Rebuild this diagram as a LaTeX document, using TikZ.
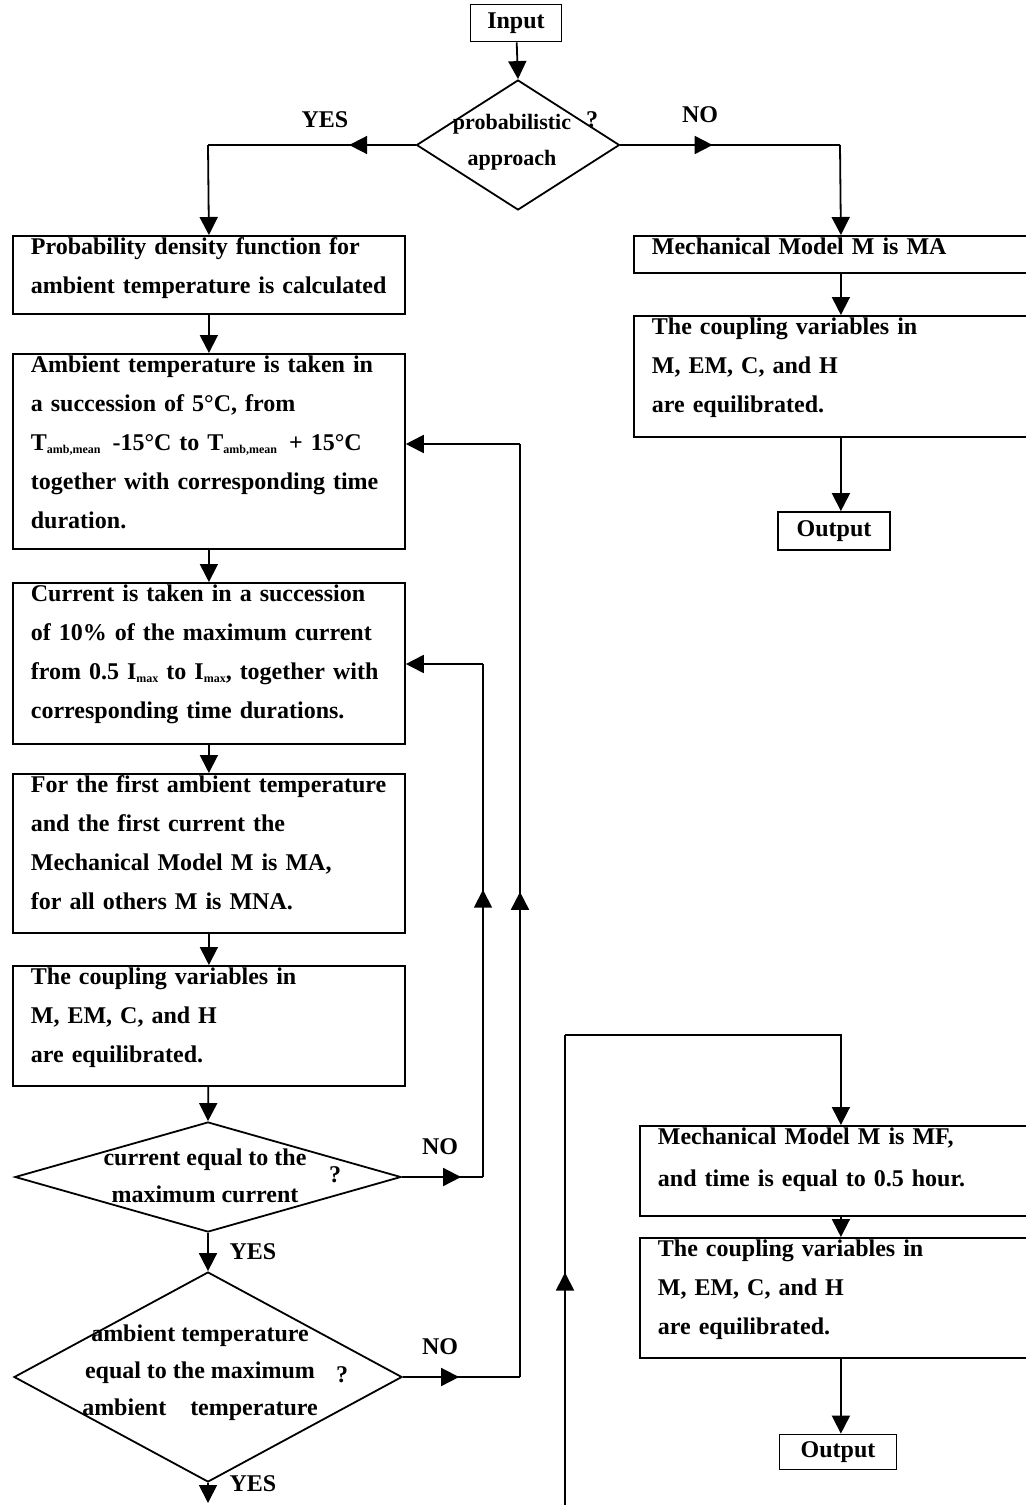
\documentclass[tikz,border=0pt]{standalone}
\usepackage{fontspec}
\setmainfont{Liberation Serif}
\usetikzlibrary{shapes.geometric, arrows.meta, decorations.markings}
\newcommand{\lowidx}[1]{\raisebox{-0.2ex}{\fontsize{6}{6}\selectfont #1}}

\begin{document}
\begin{tikzpicture}[x=0.5pt, y=-0.5pt, line width=0.9pt,
    every node/.style={font=\fontsize{12}{19.5}\selectfont\bfseries},
    >={Triangle[length=9pt, width=9pt]},
    stepbox/.style={draw, anchor=north west, align=left, text width=178pt, inner xsep=9pt, inner ysep=1.5pt, text height=8pt, text depth=#1},
    endbox/.style={draw, inner sep=0pt},
    decision/.style={draw, diamond, inner sep=0pt},
    qtext/.style={align=center, font=\fontsize{12}{18.5}\selectfont\bfseries},
    midtip/.style={postaction={decorate}, decoration={markings, mark=at position #1 with {\arrow{>}}}}]
    \useasboundingbox (0,0) rectangle (1026,1505);
    \clip (0,0) rectangle (1026,1505);

    \node[endbox, minimum width=45.5pt, minimum height=18.5pt] (input) at (516,23) {Input};
    \node[decision, minimum width=101.5pt, minimum height=65pt] (prob) at (518,145) {};
    \node[qtext, font=\fontsize{11}{18}\selectfont\bfseries] (probtxt) at (512,142) {probabilistic\\approach};
    \node (probq) at (592,120) {?};
    \node (yes1) at (325,120) {YES};
    \node (no1) at (700,115) {NO};
    \coordinate (yescorner) at (208,145);
    \coordinate (nocorner) at (840,145);

    \node[stepbox=28pt] (pdf) at (12,235) {Probability density function for\\ambient temperature is calculated};
    \node[stepbox=86.5pt] (amb) at (12,353) {Ambient temperature is taken in\\a succession of 5°C, from\\T\lowidx{amb,mean}\enspace -15°C to T\lowidx{amb,mean}\enspace + 15°C\\together with corresponding time\\duration.};
    \node[stepbox=69.5pt] (cur) at (12,582) {Current is taken in a succession\\of 10\% of the maximum current\\from 0.5 I\lowidx{max} to I\lowidx{max}, together with\\corresponding time durations.};
    \node[stepbox=68.5pt] (first) at (12,773) {For the first ambient temperature\\and the first current the\\Mechanical Model M is MA,\\for all others M is MNA.};
    \node[stepbox=49pt] (coupl) at (12,965) {The coupling variables in\\M, EM, C, and H\\are equilibrated.};

    \node[decision, minimum width=193pt, minimum height=55pt] (curmax) at (208,1177) {};
    \node[qtext] (curtxt) at (205,1176) {current equal to the\\maximum current};
    \node (curq) at (335,1175) {?};
    \node (no2) at (440,1147) {NO};
    \node (yes2) at (253,1252) {YES};
    \coordinate (curno) at (483,1177);
    \coordinate (curup) at (483,664);

    \node[decision, minimum width=194pt, minimum height=105pt] (ambmax) at (208,1377) {};
    \node[qtext] (ambtxt) at (200,1373) {ambient temperature\\equal to the maximum\\ambient\quad temperature};
    \node (ambq) at (342,1375) {?};
    \node (no3) at (440,1347) {NO};
    \node (yes3) at (253,1484) {YES};
    \coordinate (ambno) at (520,1377);
    \coordinate (ambup) at (520,444);
    \coordinate (yesend) at (208,1503);

    \node[stepbox=7.5pt, text width=189pt] (ma) at (633,235) {Mechanical Model M is MA};
    \node[stepbox=49.5pt, text width=189pt] (coupr) at (633,315) {The coupling variables in\\M, EM, C, and H\\are equilibrated.};
    \node[endbox, minimum width=56pt, minimum height=19pt] (out1) at (834,531) {Output};

    \coordinate (loopstart) at (565,1510);
    \coordinate (loopturn) at (565,1035);
    \node[stepbox=34pt, text width=183pt] (mf) at (639,1125) {Mechanical Model M is MF,\\[1.5pt]and time is equal to 0.5 hour.};
    \node[stepbox=49pt, text width=183pt] (coupf) at (639,1237) {The coupling variables in\\M, EM, C, and H\\are equilibrated.};
    \node[endbox, minimum width=58.5pt, minimum height=17.5pt] (out2) at (838,1452) {Output};

    \draw[->] (input) -- (prob.north);
    \draw[midtip=0.32] (prob.west) -- (yescorner);
    \draw[->] (yescorner) -- (pdf.north);
    \draw[midtip=0.42] (prob.east) -- (nocorner);
    \draw[->] (nocorner) -- (ma.north);

    \draw[->] (pdf) -- (amb);
    \draw[->] (amb) -- (cur);
    \draw[->] (cur) -- (first);
    \draw[->] (first) -- (coupl);
    \draw[->] (coupl) -- (curmax.north);
    \draw[->] (curmax.south) -- (ambmax.north);
    \draw[->] (ambmax.south) -- (yesend);

    \draw[midtip=0.73] (curmax.east) -- (curno);
    \draw[midtip=0.56] (curno) -- (curup);
    \draw[->] (curup) -- (curup -| cur.east);
    \draw[midtip=0.48] (ambmax.east) -- (ambno);
    \draw[midtip=0.52] (ambno) -- (ambup);
    \draw[->] (ambup) -- (ambup -| amb.east);

    \draw[->] (ma) -- (coupr);
    \draw[->] (coupr.south) -- (coupr.south |- out1.north);
    \draw[midtip=0.5] (loopstart) -- (loopturn);
    \draw[->] (loopturn) -| (mf.north);
    \draw[->] (mf) -- (coupf);
    \draw[->] (coupf.south) -- (coupf.south |- out2.north);
\end{tikzpicture}
\end{document}
